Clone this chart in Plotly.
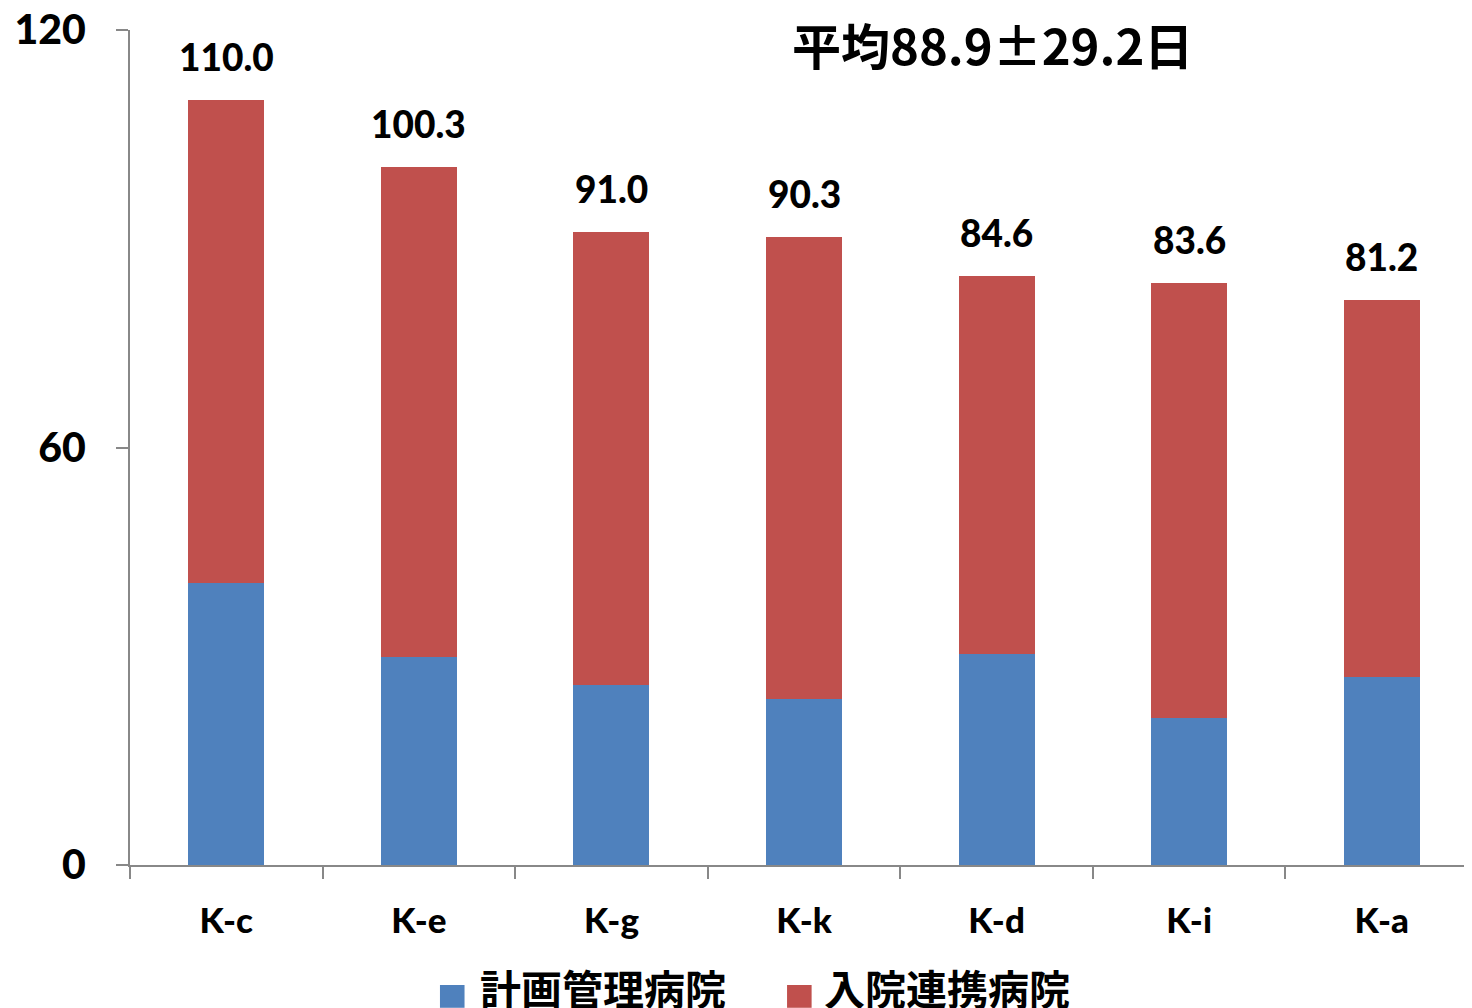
import plotly.graph_objects as go

WIDTH = 1472
HEIGHT = 1008

hospitals = ["K-c", "K-e", "K-g", "K-k", "K-d", "K-i", "K-a"]
totals = [110.0, 100.3, 91.0, 90.3, 84.6, 83.6, 81.2]
planned = [40.5, 29.9, 25.9, 23.9, 30.3, 21.1, 27.0]
linked = [round(t - p, 1) for t, p in zip(totals, planned)]
series_names = ["計画管理病院", "入院連携病院"]
series_colors = ["#4f81bd", "#c0504d"]

FONT = "Lato, 'Noto Sans CJK JP', sans-serif"
CJK = "'Noto Sans CJK JP', sans-serif"

fig = go.Figure()
for name, vals, color in zip(series_names, [planned, linked], series_colors):
    fig.add_trace(go.Bar(name=name, x=hospitals, y=vals, showlegend=False,
                         marker=dict(color=color, line_width=0)))

# value labels on top of the stacks
for h, t in zip(hospitals, totals):
    fig.add_annotation(x=h, y=t, text=f"{t:.1f}", showarrow=False,
                       yanchor="bottom", yshift=19,
                       font=dict(family=FONT, size=37, color="black", weight=900))

fig.add_annotation(xref="paper", yref="paper", x=0.639, y=1.0, xanchor="center", yanchor="middle",
                   yshift=-13, text="平均88.9±29.2日", showarrow=False,
                   font=dict(family=CJK, size=49, color="black", weight="bold"))

# legend drawn by hand so the swatches are large like the original
legend_pos = [(0.2296, 0.2578), (0.4867, 0.5126)]
for (sx, tx), name, color in zip(legend_pos, series_names, series_colors):
    fig.add_shape(type="rect", xref="paper", yref="paper", x0=sx, x1=sx + 0.0182,
                  y0=-0.171, y1=-0.1437, fillcolor=color, line_width=0)
    fig.add_annotation(xref="paper", yref="paper", x=tx, y=-0.1465, xanchor="left", yanchor="middle",
                       text=name, showarrow=False,
                       font=dict(family=CJK, size=41, color="black", weight="bold"))

# the page body adds an 8px offset, margins are reduced to compensate
fig.update_layout(
    width=WIDTH, height=HEIGHT,
    barmode="stack", bargap=0.605,
    plot_bgcolor="white", paper_bgcolor="white",
    margin=dict(l=122, r=0, t=22, b=151),
    font=dict(family=FONT, color="black"),
    showlegend=False,
    xaxis=dict(range=[-0.5, 6.51], showline=True, linecolor="#888", linewidth=2,
               ticks="outside", tickson="boundaries", ticklen=12, tickcolor="#888", tickwidth=2,
               tickfont=dict(family=FONT, size=35, weight=900), showgrid=False,
               automargin=False, ticklabelstandoff=24),
    yaxis=dict(range=[0, 120], dtick=60, showline=True, linecolor="#888", linewidth=2,
               ticks="outside", ticklen=12, tickcolor="#888", tickwidth=2,
               tickfont=dict(family=FONT, size=41, weight=900), showgrid=False, zeroline=False,
               automargin=False, ticklabelstandoff=22, ticklabeloverflow="allow"),
)

fig.write_html("out.html")
